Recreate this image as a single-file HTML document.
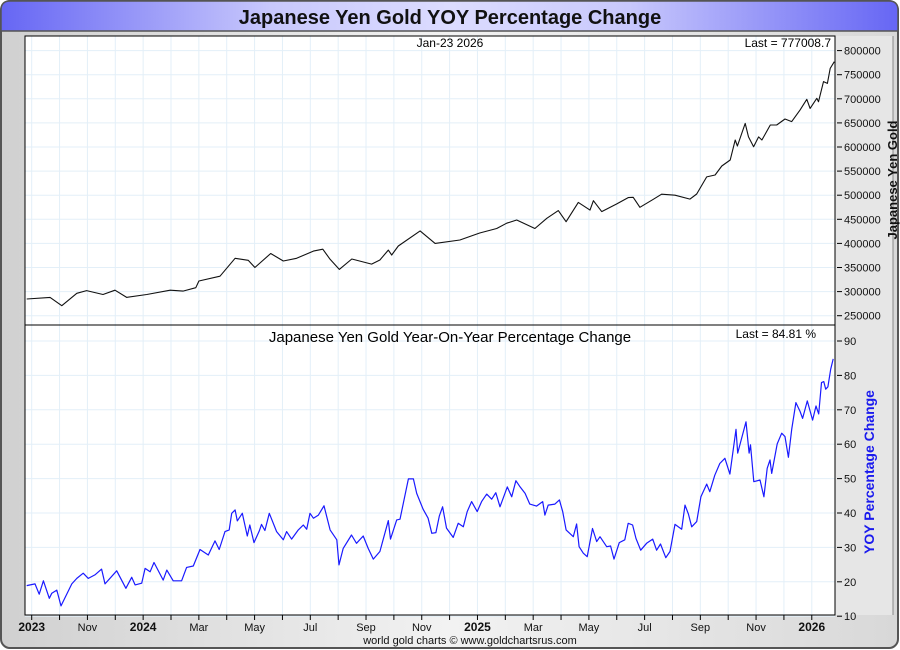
<!DOCTYPE html>
<html><head><meta charset="utf-8">
<style>
html,body{margin:0;padding:0;width:900px;height:650px;overflow:hidden;background:#fff;}
svg{display:block;font-family:"Liberation Sans",sans-serif;}
</style></head>
<body>
<svg id="chart" width="900" height="650" viewBox="0 0 900 650">
<defs>
<linearGradient id="tb" x1="0" x2="1" y1="0" y2="0">
<stop offset="0" stop-color="#6666f4"/><stop offset="0.3" stop-color="#c8c8fc"/><stop offset="0.5" stop-color="#dcdcff"/><stop offset="0.7" stop-color="#c8c8fc"/><stop offset="1" stop-color="#6666f4"/>
</linearGradient>
<linearGradient id="bg" x1="0" x2="1" y1="0" y2="0">
<stop offset="0" stop-color="#d0d0d0"/><stop offset="0.5" stop-color="#f2f2f2"/><stop offset="1" stop-color="#d8d8d8"/>
</linearGradient>
</defs>
<rect x="1" y="1" width="897" height="647" rx="9" fill="url(#bg)" stroke="#555" stroke-width="2"/>
<path d="M1 31 V10 Q1 1 10 1 H889 Q898 1 898 10 V31 Z" fill="url(#tb)" stroke="#555" stroke-width="1.5"/>
<text x="450" y="24" text-anchor="middle" font-size="20" font-weight="bold" fill="#111">Japanese Yen Gold YOY Percentage Change</text>
<rect x="835" y="36" width="58" height="579" fill="#e6e6e6"/>
<line x1="893" y1="36" x2="893" y2="615" stroke="#888"/>
<rect x="25" y="36" width="810" height="579" fill="#fff"/>
<g id="grid"></g>
<g id="series"></g>
<rect x="25" y="36" width="810" height="579" fill="none" stroke="#000" stroke-width="1"/>
<line x1="25" y1="325" x2="835" y2="325" stroke="#000"/>
<g id="axes"></g>
<text x="450" y="47" text-anchor="middle" font-size="12" fill="#000">Jan-23  2026</text>
<text x="831" y="47" text-anchor="end" font-size="12" fill="#000">Last = 777008.7</text>
<text x="450" y="342" text-anchor="middle" font-size="15" fill="#000">Japanese Yen Gold Year-On-Year Percentage Change</text>
<text x="816" y="338" text-anchor="end" font-size="12" fill="#000">Last = 84.81 %</text>
<text transform="translate(897,180) rotate(-90)" text-anchor="middle" font-size="13" font-weight="bold" fill="#111">Japanese Yen Gold</text>
<text transform="translate(874,472) rotate(-90)" text-anchor="middle" font-size="14" font-weight="bold" fill="#1a1aee">YOY Percentage Change</text>
<text x="470" y="644" text-anchor="middle" font-size="11" fill="#111">world gold charts © www.goldchartsrus.com</text>
</svg>
<script>
// months since Sep 1 2023
const priceMonths = [-0.18,0.66,1.08,1.62,1.97,2.56,2.99,3.41,4.13,4.97,5.43,5.89,6.00,6.76,7.30,7.77,8.01,8.58,9.03,9.51,10.11,10.45,10.71,11.04,11.49,12.20,12.50,12.80,12.92,13.16,13.94,14.48,15.37,16.08,16.69,17.05,17.41,18.06,18.49,18.90,19.18,19.62,20.04,20.16,20.46,21.00,21.41,21.59,21.83,22.31,22.61,23.09,23.63,23.87,24.23,24.53,24.77,25.07,25.25,25.33,25.61,25.73,25.91,26.09,26.21,26.51,26.74,27.04,27.28,27.58,27.82,27.94,28.18,28.24,28.42,28.56,28.66,28.81];
const priceValues = [284600,288000,270700,296500,302000,294000,303000,288000,294000,303000,301000,308000,322000,332000,369000,365000,350000,379000,363500,369000,384000,388000,367000,346000,367600,357000,365600,386000,376000,394600,426000,400000,407000,421600,431000,442000,448600,431000,452000,468000,445000,485000,469000,488600,466000,482000,495000,495700,475000,491500,502000,500000,492000,502500,538000,542000,560600,573000,614600,602000,649000,621000,600700,621000,614600,645700,645700,658000,652600,677000,699000,680000,701000,694000,735600,732000,763000,777008.7];
const yoyMonths = [-0.18,0.12,0.27,0.42,0.63,0.72,0.90,1.05,1.44,1.62,1.85,2.03,2.27,2.51,2.63,3.05,3.38,3.59,3.71,3.95,4.07,4.25,4.39,4.72,4.85,5.08,5.38,5.56,5.80,6.04,6.34,6.58,6.73,6.94,7.09,7.18,7.30,7.38,7.56,7.74,7.83,7.98,8.17,8.25,8.37,8.53,8.79,9.03,9.15,9.33,9.57,9.75,9.87,9.99,10.11,10.29,10.49,10.71,10.95,11.03,11.18,11.48,11.66,11.90,12.08,12.26,12.50,12.80,12.88,13.10,13.22,13.52,13.70,13.82,14.05,14.23,14.36,14.51,14.63,14.75,14.89,15.13,15.31,15.49,15.63,15.79,15.99,16.15,16.33,16.51,16.66,16.81,17.07,17.23,17.38,17.53,17.71,17.88,18.12,18.34,18.42,18.54,18.78,18.94,19.06,19.18,19.44,19.56,19.65,19.80,19.94,20.13,20.28,20.40,20.64,20.78,20.90,21.09,21.29,21.41,21.57,21.69,21.86,22.07,22.29,22.43,22.57,22.76,22.91,23.09,23.33,23.45,23.57,23.69,23.87,24.02,24.23,24.34,24.52,24.70,24.88,25.06,25.28,25.34,25.48,25.64,25.75,25.80,25.92,26.14,26.28,26.40,26.50,26.56,26.76,26.92,27.04,27.16,27.28,27.43,27.58,27.67,27.84,28.03,28.15,28.25,28.35,28.43,28.50,28.58,28.68,28.77];
const yoyValues = [18.9,19.4,16.4,20.3,15.2,16.7,17.6,13.0,19.4,21.0,22.5,21.0,22.0,23.7,19.4,23.2,18.1,21.3,19.1,19.6,23.9,22.9,25.6,20.5,23.4,20.3,20.3,24.2,24.6,29.4,27.8,31.9,29.4,34.6,35.1,39.9,40.9,37.7,39.9,33.3,36.5,31.4,34.8,36.7,34.9,39.9,34.6,32.2,34.6,32.4,35.1,36.5,35.3,39.9,38.5,39.4,42.1,35.1,32.2,24.9,29.7,33.6,31.2,33.3,29.7,26.6,28.8,37.8,32.4,38.0,38.2,49.9,49.9,45.7,41.1,38.5,34.1,34.3,39.1,41.8,35.6,32.9,37.0,36.0,40.4,43.3,40.4,43.3,45.5,44.0,45.9,41.8,47.6,44.7,49.4,47.6,45.7,42.6,42.0,43.3,39.4,42.3,42.6,43.8,40.4,35.1,33.1,36.8,30.2,28.3,27.3,35.5,31.7,33.1,30.2,30.4,26.6,31.4,32.2,37.0,36.5,32.6,29.2,31.2,32.4,29.2,31.0,27.0,28.8,36.7,35.3,42.3,39.7,36.0,37.5,44.7,48.4,46.2,51.0,54.4,55.9,51.3,64.3,57.4,61.7,66.5,57.4,59.8,49.1,49.6,44.7,53.0,55.4,51.5,60.1,63.2,62.2,56.2,64.3,72.1,69.5,67.5,72.6,67.0,71.1,68.8,77.9,78.2,76.0,76.7,81.8,84.81];
const priceTicks = [800000,750000,700000,650000,600000,550000,500000,450000,400000,350000,300000,250000];
const yoyTicks = [90,80,70,60,50,40,30,20,10];
const monthLabels = ["2023","Oct","Nov","Dec","2024","Feb","Mar","Apr","May","Jun","Jul","Aug","Sep","Oct","Nov","Dec","2025","Feb","Mar","Apr","May","Jun","Jul","Aug","Sep","Oct","Nov","Dec","2026"];
const shownLabels = ["2023","Nov","2024","Mar","May","Jul","Sep","Nov","2025","Mar","May","Jul","Sep","Nov","2026"];

const NS = "http://www.w3.org/2000/svg";
const X0 = 31.7, MW = 27.86;
function xScale(m){ return X0 + m*MW; }
function yPrice(v){ return 315.7 - (v-250000)/50000*24.1; }
function yYoy(v){ return 616.2 - (v-10)*3.44; }
function mk(tag, attrs, parent){
  const e = document.createElementNS(NS, tag);
  for (const k in attrs) e.setAttribute(k, attrs[k]);
  parent.appendChild(e); return e;
}
const grid = document.getElementById('grid');
const axes = document.getElementById('axes');
const series = document.getElementById('series');

monthLabels.forEach((lab, i) => {
  const x = xScale(i);
  if (x > 835) return;
  const g1 = mk('line', {x1:x, y1:36, x2:x, y2:615, stroke:'#e3eff8', 'stroke-width':1}, grid);
  
  
  const t = mk('line', {x1:x, y1:615, x2:x, y2:620, stroke:'#000', 'stroke-width':1}, axes);
  
  
  if (shownLabels.includes(lab) && (i % 2 === 0)) {
    const isYear = /^\d{4}$/.test(lab);
    const tx = mk('text', {x:x, y:631, 'text-anchor':'middle', 'font-size': isYear ? 12 : 11, 'font-weight': isYear ? 'bold' : 'normal', fill:'#111'}, axes);
    tx.textContent = lab;
    
    
  }
});

priceTicks.forEach(v => {
  const y = yPrice(v);
  const g = mk('line', {x1:25, y1:y, x2:835, y2:y, stroke:'#e3eff8'}, grid);
  
  
  const t = mk('line', {x1:837, y1:y, x2:842, y2:y, stroke:'#000'}, axes);
  
  
  const tx = mk('text', {x:844, y:y+4, 'font-size':11, fill:'#111'}, axes);
  tx.textContent = v;
  
  
});
yoyTicks.forEach(v => {
  const y = yYoy(v);
  const g = mk('line', {x1:25, y1:y, x2:835, y2:y, stroke:'#e3eff8'}, grid);
  
  
  const t = mk('line', {x1:837, y1:y, x2:842, y2:y, stroke:'#000'}, axes);
  
  
  const tx = mk('text', {x:844, y:y+4, 'font-size':11, fill:'#111'}, axes);
  tx.textContent = v;
  
  
});

const pp = priceMonths.map((m,i) => xScale(m).toFixed(1)+','+yPrice(priceValues[i]).toFixed(1)).join(' ');
const pl = mk('polyline', {points:pp, fill:'none', stroke:'#111', 'stroke-width':1.1, 'stroke-linejoin':'round'}, series);



const yp = yoyMonths.map((m,i) => xScale(m).toFixed(1)+','+yYoy(yoyValues[i]).toFixed(1)).join(' ');
const yl = mk('polyline', {points:yp, fill:'none', stroke:'#1a1aff', 'stroke-width':1.2, 'stroke-linejoin':'round'}, series);


</script>
</body></html>
